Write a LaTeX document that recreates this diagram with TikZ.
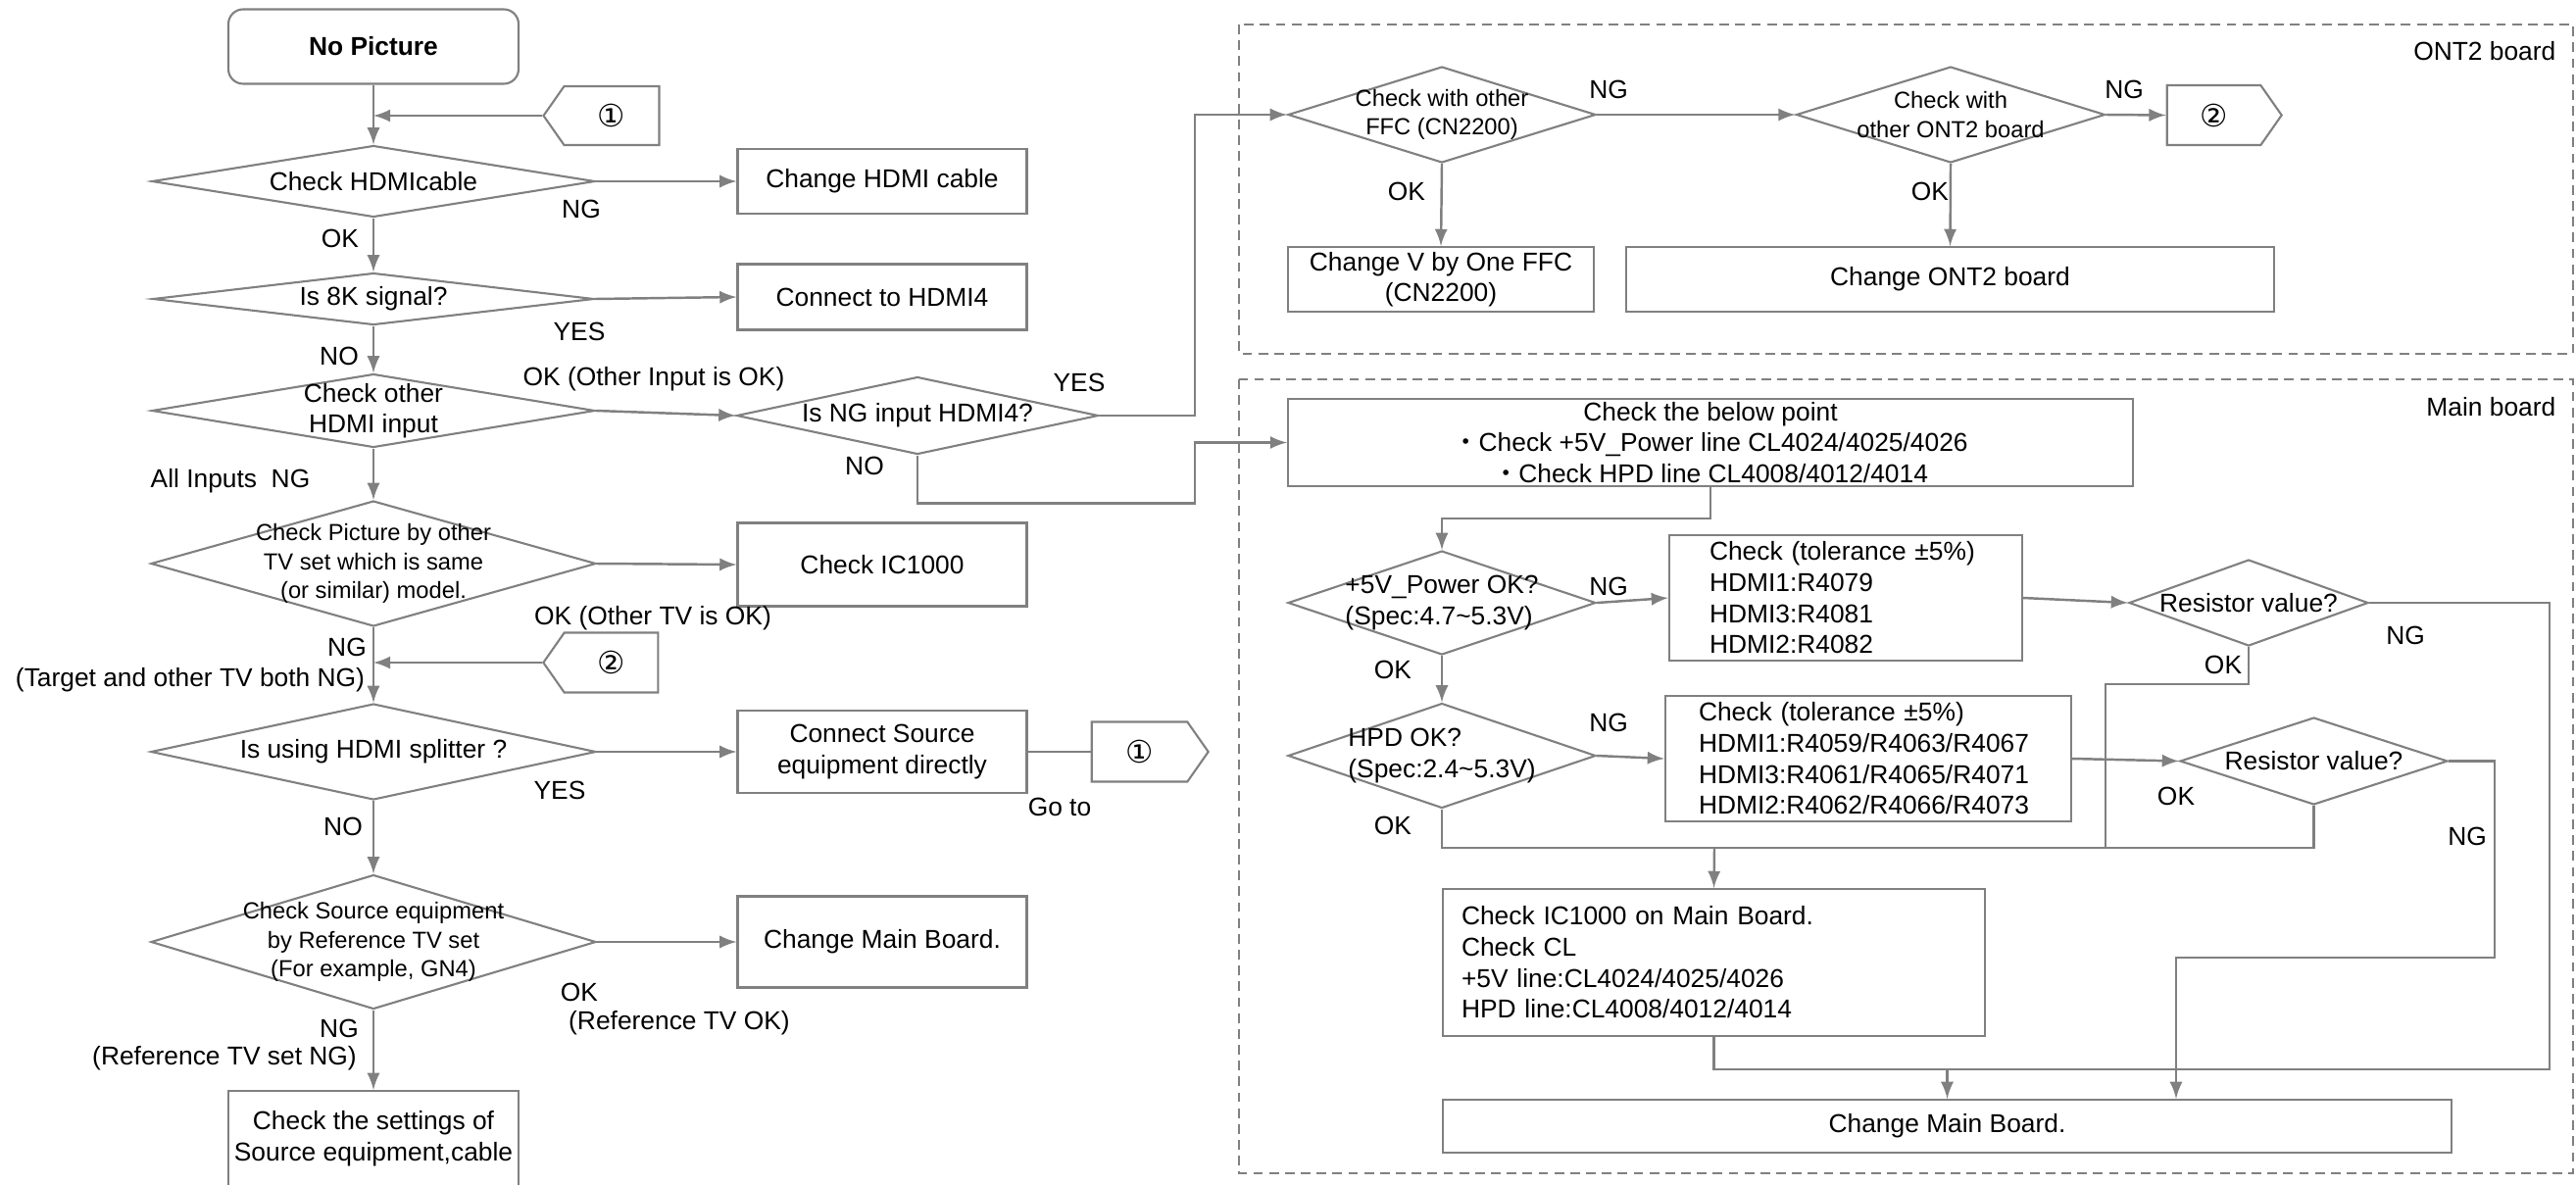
\documentclass[tikz,border=0pt]{standalone}
\usepackage{fontspec}
\setmainfont{Liberation Sans}
\newfontfamily\symfont{DejaVu Sans}
\newfontfamily\cjk{Noto Sans CJK JP}
\usetikzlibrary{shapes.geometric,shapes.symbols}
\definecolor{linegray}{RGB}{128,128,128}
\newcommand{\mainsize}{\fontsize{7.5}{9}\selectfont}
\newcommand{\smallsize}{\fontsize{6.75}{8.4}\selectfont}
\tikzset{
  line/.style={draw=linegray, line width=0.7pt},
  arr/.style={line, -latex},
  box/.style={draw=linegray, line width=0.6pt, align=center, inner sep=0pt},
  decision/.style={diamond, draw=linegray, line width=0.6pt, align=center, inner sep=-40pt},
  goto/.style={signal, draw=linegray, line width=0.6pt, signal pointer angle=110, font=\symfont\fontsize{9}{10}\selectfont},
  board/.style={draw=linegray, line width=0.4pt, dash pattern=on 2.8pt off 1.8pt},
  lbl/.style={inner sep=0pt}
}
\begin{document}
\begin{tikzpicture}[x=0.1mm, y=-0.1mm, font=\mainsize]
\useasboundingbox (0,0) rectangle (2628,1208);

\node (start) [box, rounded corners=1.5mm, minimum width=29.6mm, minimum height=7.6mm, font=\mainsize\bfseries] at (381,47.5) {No Picture};
\node (goA) [goto, signal to=west, minimum width=11.8mm, minimum height=6mm] at (624,118) {①};
\node (hdmicable) [decision, minimum width=45.2mm, minimum height=7.3mm] at (381,185) {Check HDMIcable};
\node (chgcable) [box, minimum width=29.5mm, minimum height=6.6mm] at (900,185) {Change HDMI cable};
\node (sig8k) [decision, minimum width=45mm, minimum height=5.3mm] at (381,305) {Is 8K signal?};
\node (tohdmi4) [box, minimum width=29.5mm, minimum height=6.7mm] at (900,303) {Connect to HDMI4};
\node (otherin) [decision, minimum width=45.2mm, minimum height=7.5mm] at (381,419) {Check other\\HDMI input};
\node (nghdmi4) [decision, minimum width=36.9mm, minimum height=7.9mm] at (936,424) {Is NG input HDMI4?};
\node (othertv) [decision, font=\smallsize, minimum width=45.4mm, minimum height=12.8mm] at (381,575) {Check Picture by other\\TV set which is same\\(or similar) model.};
\node (chkic) [box, minimum width=29.5mm, minimum height=8.5mm] at (900,576) {Check IC1000};
\node (goB) [goto, signal to=west, minimum width=11.7mm, minimum height=6.1mm] at (623.5,676) {②};
\node (splitter) [decision, minimum width=45.4mm, minimum height=9.8mm] at (381,767) {Is using HDMI splitter ?};
\node (direct) [box, minimum width=29.5mm, minimum height=8.4mm] at (900,767) {Connect Source\\equipment directly};
\node (goA2) [goto, signal to=east, minimum width=11.9mm, minimum height=6.1mm] at (1162.5,767) {①};
\node (reftv) [decision, font=\smallsize, minimum width=45.4mm, minimum height=13.7mm] at (381,961) {Check Source equipment\\by Reference TV set\\(For example, GN4)};
\node (chgmainL) [box, minimum width=29.5mm, minimum height=9.3mm] at (900,961) {Change Main Board.};
\node (settings) [box, minimum width=29.6mm, minimum height=9.7mm] at (381,1161.5) {Check the settings of\\Source equipment,cable};

\draw [board] (1264,25) rectangle (2625,361);
\node (ont2lbl) [lbl, anchor=east] at (2608,52) {ONT2 board};
\node (ffc) [decision, font=\smallsize, minimum width=31.4mm, minimum height=9.8mm] at (1471,117) {Check with other\\FFC (CN2200)};
\node (ont2) [decision, font=\smallsize, minimum width=31.5mm, minimum height=9.8mm] at (1990,117) {Check with\\other ONT2 board};
\node (goB2) [goto, signal to=east, minimum width=11.7mm, minimum height=6.1mm] at (2258.5,117.5) {②};
\node (chgffc) [box, minimum width=31.2mm, minimum height=6.6mm] at (1470,285) {Change V by One FFC\\(CN2200)};
\node (chgont2) [box, minimum width=66.1mm, minimum height=6.6mm] at (1989.5,285) {Change ONT2 board};

\draw [board] (1264,387) rectangle (2625,1197);
\node (mainlbl) [lbl, anchor=east] at (2608,415) {Main board};
\node (points) [box, minimum width=86.2mm, minimum height=8.9mm] at (1745,451.5) {Check the below point\\{\cjk ・}Check +5V\_Power line CL4024/4025/4026\\{\cjk ・}Check HPD line CL4008/4012/4014};
\node (pwr) [decision, align=left, minimum width=31.4mm, minimum height=10.6mm] at (1471,615) {+5V\_Power OK?\\(Spec:4.7\textasciitilde5.3V)};
\node (pwrres) [box, align=left, text width=27.8mm, inner xsep=4.1mm, minimum height=12.8mm] at (1883,610) {Check (tolerance ±5\%)\\HDMI1:R4079\\HDMI3:R4081\\HDMI2:R4082};
\node (resA) [decision, minimum width=24.4mm, minimum height=8.8mm] at (2294,615) {Resistor value?};
\node (hpd) [decision, align=left, minimum width=31.4mm, minimum height=10.7mm] at (1471,771) {HPD OK?\\(Spec:2.4\textasciitilde5.3V)};
\node (hpdres) [box, align=left, text width=34.6mm, inner xsep=3.4mm, minimum height=12.8mm] at (1906,774) {Check (tolerance ±5\%)\\HDMI1:R4059/R4063/R4067\\HDMI3:R4061/R4065/R4071\\HDMI2:R4062/R4066/R4073};
\node (resB) [decision, minimum width=27.3mm, minimum height=8.9mm] at (2360.5,776.5) {Resistor value?};
\node (ic1000) [box, align=left, text width=51.5mm, inner xsep=1.9mm, minimum height=15mm] at (1748.5,982) {Check IC1000 on Main Board.\\Check CL\\+5V line:CL4024/4025/4026\\HPD line:CL4008/4012/4014};
\node (chgmainR) [box, minimum width=102.9mm, minimum height=5.4mm] at (1986.5,1149) {Change Main Board.};

\coordinate (jog) at (1219,0);
\coordinate (merge) at (1749,865);
\coordinate (okjoin) at (2148,865);
\coordinate (mbjoin) at (1986.5,1091);
\coordinate (ngA) at (2601,1091);
\coordinate (ngB) at (2545,977);

\draw [arr] (start.south) -- (hdmicable.north);
\draw [arr] (goA.west) -- (goA.west -| start.south);
\draw [arr] (hdmicable.east) -- (chgcable.west);
\draw [arr] (hdmicable.south) -- (sig8k.north);
\draw [arr] (sig8k.east) -- (tohdmi4.west);
\draw [arr] (sig8k.south) -- (otherin.north);
\draw [arr] (otherin.east) -- (nghdmi4.west);
\draw [arr] (otherin.south) -- (othertv.north);
\draw [arr] (nghdmi4.east) -- (nghdmi4.east -| jog) |- (ffc.west);
\draw [arr] (nghdmi4.south) -- ++(0,49) -| (jog |- points.west) -- (points.west);
\draw [arr] (othertv.east) -- (chkic.west);
\draw [arr] (othertv.south) -- (splitter.north);
\draw [arr] (goB.west) -- (goB.west -| start.south);
\draw [arr] (splitter.east) -- (direct.west);
\draw [line] (direct.east) -- (goA2.west);
\draw [arr] (splitter.south) -- (reftv.north);
\draw [arr] (reftv.east) -- (chgmainL.west);
\draw [arr] (reftv.south) -- (settings.north);

\draw [arr] (ffc.east) -- (ont2.west);
\draw [arr] (ont2.east) -- (goB2.west);
\draw [arr] (ffc.south) -- (chgffc.north);
\draw [arr] (ont2.south) -- (chgont2.north);

\draw [arr] (points.south) -- ++(0,32) -| (pwr.north);
\draw [arr] (pwr.east) -- (pwrres.west);
\draw [arr] (pwrres.east) -- (resA.west);
\draw [arr] (pwr.south) -- (hpd.north);
\draw [arr] (hpd.east) -- (hpdres.west);
\draw [arr] (hpdres.east) -- (resB.west);
\draw [line, line width=0.4pt] (resA.south) -- ++(0,38) -| (okjoin);
\draw [line] (hpd.south) |- (merge);
\draw [line] (resB.south) |- (merge);
\draw [arr] (merge) -- (ic1000.north);
\draw [line] (resA.east) -| (ngA) -- (mbjoin);
\draw [line] (ic1000.south) |- (mbjoin);
\draw [arr] (mbjoin) -- (chgmainR.north);
\draw [arr] (resB.east) -| (ngB) -| ([xshift=23.35mm]chgmainR.north);

\node (ngcable) [lbl] at (593,213) {NG};
\node (okcable) [lbl] at (347,243) {OK};
\node (yes8k) [lbl] at (591,338) {YES};
\node (no8k) [lbl] at (346,363) {NO};
\node (okother) [lbl] at (667,387) {OK (Other Input is OK)};
\node (yeshdmi4) [lbl] at (1101,390) {YES};
\node (nohdmi4) [lbl] at (882,475) {NO};
\node (allng) [lbl] at (235,491) {All Inputs~~NG};
\node (oktv) [lbl] at (666,631) {OK (Other TV is OK)};
\node (ngtv) [lbl] at (354,660) {NG};
\node (bothng) [lbl] at (194,694) {(Target and other TV both NG)};
\node (yessplit) [lbl] at (571,806) {YES};
\node (goto) [lbl] at (1081,823) {Go to};
\node (nosplit) [lbl] at (350,843) {NO};
\node (okref) [lbl] at (591,1012) {OK};
\node (okrefnote) [lbl] at (693,1044) {(Reference TV OK)};
\node (ngref) [lbl] at (346,1049) {NG};
\node (ngrefnote) [lbl] at (229,1080) {(Reference TV set NG)};
\node (ngffc) [lbl] at (1641,91) {NG};
\node (ngont2) [lbl] at (2167,91) {NG};
\node (okffc) [lbl] at (1435,195) {OK};
\node (okont2) [lbl] at (1969,195) {OK};
\node (ngpwr) [lbl] at (1641,598) {NG};
\node (okpwr) [lbl] at (1421,683) {OK};
\node (nghpd) [lbl] at (1641,737) {NG};
\node (okhpd) [lbl] at (1421,842) {OK};
\node (ngresA) [lbl] at (2454,648) {NG};
\node (okresA) [lbl] at (2268,678) {OK};
\node (okresB) [lbl] at (2220,812) {OK};
\node (ngresB) [lbl] at (2517,853) {NG};
\end{tikzpicture}
\end{document}
